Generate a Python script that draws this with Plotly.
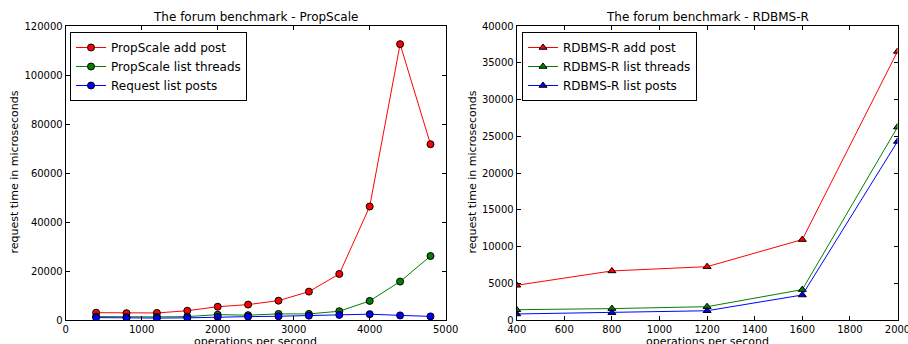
import plotly.graph_objects as go

# ---- data ----
ps_x = [400, 800, 1200, 1600, 2000, 2400, 2800, 3200, 3600, 4000, 4400, 4800]
ps_add_post = [3100, 2900, 3000, 3900, 5550, 6400, 8000, 11700, 18900, 46400, 112600, 71800]
ps_list_threads = [1500, 1300, 1400, 1500, 2300, 2100, 2600, 2600, 3700, 7900, 15800, 26200]
ps_list_posts = [1100, 900, 900, 1000, 1350, 1500, 1650, 1900, 2200, 2500, 2000, 1600]

rd_x = [400, 800, 1200, 1600, 2000]
rd_add_post = [4760, 6710, 7290, 10970, 36540]
rd_list_threads = [1440, 1590, 1850, 4170, 26260]
rd_list_posts = [860, 1040, 1300, 3440, 24300]

left_title = "The forum benchmark - PropScale"
right_title = "The forum benchmark - RDBMS-R"
x_label = "operations per second"
y_label = "request time in microseconds"

RED, GREEN, BLUE = "#ff0000", "#008000", "#0000ff"
FONT = "DejaVu Sans"

fig = go.Figure()

def add(x, y, name, color, symbol, xa, ya, legend):
    fig.add_trace(go.Scatter(
        x=x, y=y, name=name, mode="lines+markers",
        line=dict(color=color, width=1),
        marker=dict(symbol=symbol, size=7,
                    color=color, line=dict(color="black", width=1)),
        xaxis=xa, yaxis=ya, legend=legend, cliponaxis=True))

add(ps_x, ps_add_post, "PropScale add post", RED, "circle", "x", "y", "legend")
add(ps_x, ps_list_threads, "PropScale list threads", GREEN, "circle", "x", "y", "legend")
add(ps_x, ps_list_posts, "Request list posts", BLUE, "circle", "x", "y", "legend")

add(rd_x, rd_add_post, "RDBMS-R add post", RED, "triangle-up", "x2", "y2", "legend2")
add(rd_x, rd_list_threads, "RDBMS-R list threads", GREEN, "triangle-up", "x2", "y2", "legend2")
add(rd_x, rd_list_posts, "RDBMS-R list posts", BLUE, "triangle-up", "x2", "y2", "legend2")

W, H = 908, 344
ytop = 1 - 26 / H
ybot = 1 - 320.3 / H
L1, R1 = 65.7, 445.7
L2, R2 = 516.7, 897.5

axis_common = dict(showgrid=False, zeroline=False, showline=True, linecolor="black",
                   linewidth=1, mirror="allticks", ticks="inside", ticklen=4,
                   tickcolor="black", tickformat="d", ticklabeloverflow="allow",
                   tickfont=dict(family=FONT, size=10, color="black"),
                   automargin=False)

def ann(text, xpx, ypx, size, angle=0):
    return dict(text=text, x=xpx / W, y=1 - ypx / H, xref="paper", yref="paper",
                showarrow=False, font=dict(family=FONT, size=size, color="black"),
                xanchor="center", yanchor="middle", textangle=angle)

fig.update_layout(
    width=W, height=H,
    margin=dict(l=0, r=0, t=0, b=0),
    paper_bgcolor="white", plot_bgcolor="white",
    font=dict(family=FONT, color="black"),
    xaxis=dict(domain=[L1 / W, R1 / W], range=[0, 5000], dtick=1000,
               anchor="y", **axis_common),
    yaxis=dict(domain=[ybot, ytop], range=[0, 120000], dtick=20000,
               anchor="x", **axis_common),
    xaxis2=dict(domain=[L2 / W, R2 / W], range=[400, 2000], dtick=200,
                anchor="y2", **axis_common),
    yaxis2=dict(domain=[ybot, ytop], range=[0, 40000], dtick=5000,
                anchor="x2", **axis_common),
    legend=dict(x=70 / W, y=1 - 32 / H, xanchor="left", yanchor="top",
                bordercolor="black", borderwidth=1, bgcolor="white",
                font=dict(family=FONT, size=12), tracegroupgap=0),
    legend2=dict(x=522 / W, y=1 - 32 / H, xanchor="left", yanchor="top",
                 bordercolor="black", borderwidth=1, bgcolor="white",
                 font=dict(family=FONT, size=12), tracegroupgap=0),
    annotations=[
        ann(left_title, (L1 + R1) / 2, 17, 12),
        ann(right_title, (L2 + R2) / 2, 17, 12),
        ann(x_label, (L1 + R1) / 2, 341, 11),
        ann(x_label, (L2 + R2) / 2, 341, 11),
        ann(y_label, 13.5, 172, 11, -90),
        ann(y_label, 471.5, 172, 11, -90),
    ],
)

fig.write_html("out.html", config={"displayModeBar": False},
               post_script="document.body.style.margin='0px';document.body.style.overflow='hidden';")
